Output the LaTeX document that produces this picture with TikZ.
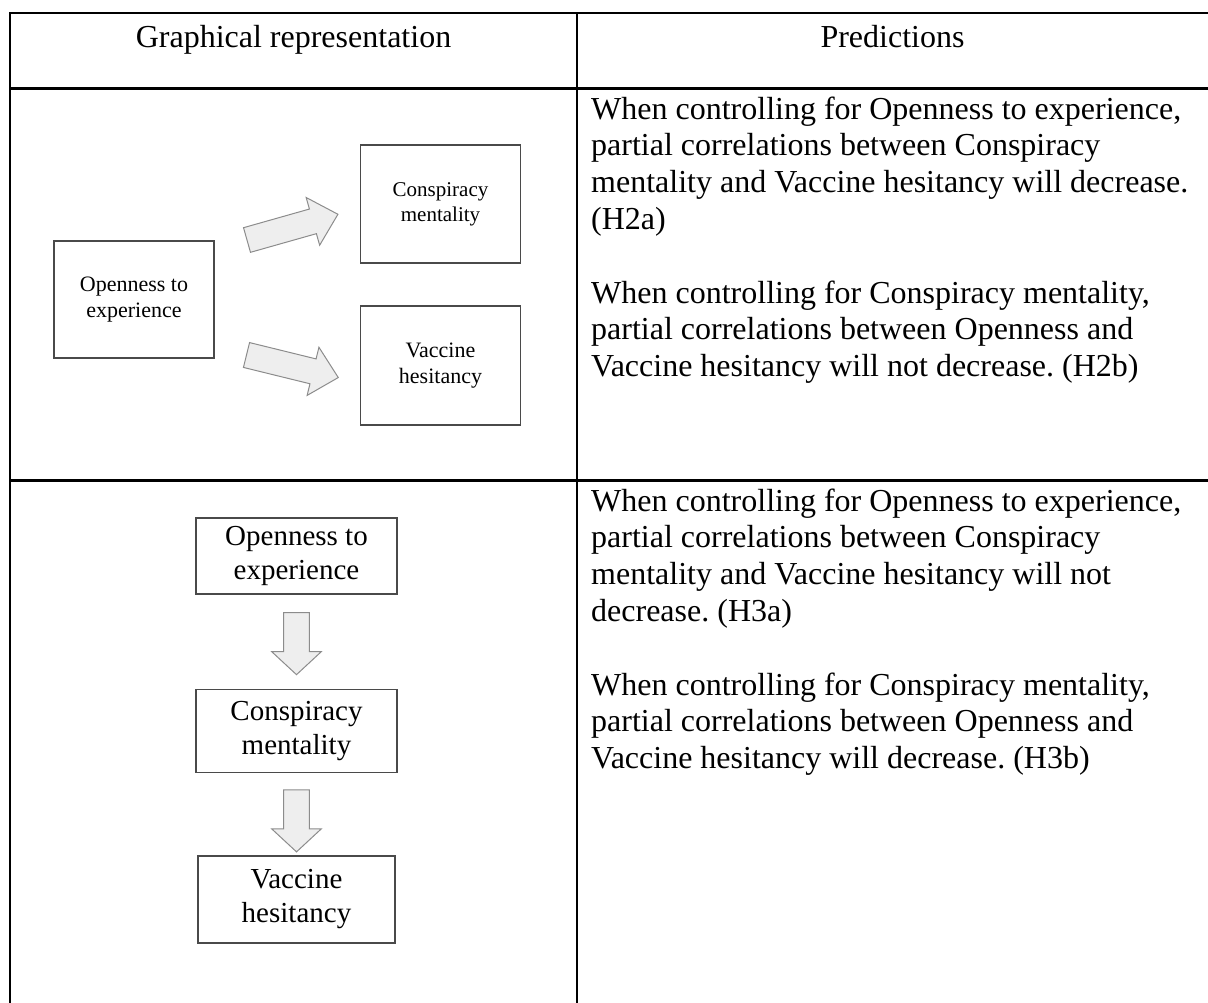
\documentclass[tikz,border=0pt]{standalone}
\usepackage{fontspec}
\setmainfont{Liberation Serif}
\usetikzlibrary{calc}
\frenchspacing
\definecolor{boxline}{HTML}{4A4A4A}
\definecolor{arrline}{HTML}{8C8C8C}
\definecolor{arrfill}{HTML}{EEEEEE}
\begin{document}
\begin{tikzpicture}[x=1pt,y=-1pt,
  tableline/.style={line width=2.7pt,black},
  smallbox/.style={draw=boxline,line width=1.3pt,align=center,inner sep=0pt,
    minimum width=160pt,font=\fontsize{22}{26}\selectfont},
  bigbox/.style={draw=boxline,line width=1.3pt,align=center,inner sep=0pt,
    minimum width=201pt,font=\fontsize{29}{34}\selectfont},
  headtext/.style={anchor=base,inner sep=0pt,font=\fontsize{32}{36.8}\selectfont},
  predline/.style={anchor=base west,inner sep=0pt,font=\fontsize{32}{36.8}\selectfont},
  arrowstyle/.style={draw=arrline,fill=arrfill,line width=1pt,line join=miter},
  pics/blockarrow/.style args={#1/#2}{code={
    \draw[arrowstyle] (0,-12.8) -- (#1-#2,-12.8) -- (#1-#2,-24.8) -- (#1,0)
      -- (#1-#2,24.8) -- (#1-#2,12.8) -- (0,12.8) -- cycle;}}
]
\useasboundingbox (0,0) rectangle (1208,1002);
% table grid
\coordinate (tl) at (10,13);
\coordinate (tr) at (1210,13);
\coordinate (bl) at (10,1004);
\coordinate (hl) at (10,88.5);
\coordinate (hr) at (1210,88.5);
\coordinate (rl) at (10,480.5);
\coordinate (rr) at (1210,480.5);
\coordinate (dt) at (577,13);
\coordinate (db) at (577,1004);
\draw[tableline] (bl) -- (tl) -- (tr);
\draw[tableline] (hl) -- (hr);
\draw[tableline] (rl) -- (rr);
\draw[tableline] (dt) -- (db);
% header
\node[headtext] (h1) at (293.5,47) {Graphical representation};
\node[headtext] (h2) at (892.5,47) {Predictions};
% row 2 diagram
\node[smallbox,minimum height=117pt] (o2) at (134,299.5) {Openness to\\experience};
\node[smallbox,minimum height=118pt,font=\fontsize{21}{25}\selectfont] (c2) at (440.5,204) {Conspiracy\\mentality};
\node[smallbox,minimum height=119pt] (v2) at (440.5,365.5) {Vaccine\\hesitancy};
\coordinate (a1) at (247,240);
\coordinate (a2) at (246.5,355);
\pic[rotate=15.8] at (a1) {blockarrow=94.5/26};
\pic[rotate=-13.8] at (a2) {blockarrow=94.5/26};
% row 3 diagram
\node[bigbox,minimum height=76pt] (o3) at (296.5,556) {Openness to\\experience};
\node[bigbox,minimum height=83pt] (c3) at (296.5,731.2) {Conspiracy\\mentality};
\node[bigbox,minimum width=197pt,minimum height=87pt] (v3) at (296.5,899.5) {Vaccine\\hesitancy};
\pic[rotate=-90] at ($(o3.south)+(0,18)$) {blockarrow=62/23};
\pic[rotate=-90] at ($(c3.south)+(0,16.5)$) {blockarrow=62/23};
% row 2 predictions
\node[predline] (p1) at (591,119) {When controlling for Openness to experience,};
\node[predline] (p2) at (591,155.8) {partial correlations between Conspiracy};
\node[predline] (p3) at (591,192.6) {mentality and Vaccine hesitancy will decrease.};
\node[predline] (p4) at (591,229.4) {(H2a)};
\node[predline] (p5) at (591,303) {When controlling for Conspiracy mentality,};
\node[predline] (p6) at (591,339.8) {partial correlations between Openness and};
\node[predline] (p7) at (591,376.6) {Vaccine hesitancy will not decrease. (H2b)};
% row 3 predictions
\node[predline] (q1) at (591,511) {When controlling for Openness to experience,};
\node[predline] (q2) at (591,547.8) {partial correlations between Conspiracy};
\node[predline] (q3) at (591,584.6) {mentality and Vaccine hesitancy will not};
\node[predline] (q4) at (591,621.4) {decrease. (H3a)};
\node[predline] (q5) at (591,695) {When controlling for Conspiracy mentality,};
\node[predline] (q6) at (591,731.8) {partial correlations between Openness and};
\node[predline] (q7) at (591,768.6) {Vaccine hesitancy will decrease. (H3b)};
\end{tikzpicture}
\end{document}
